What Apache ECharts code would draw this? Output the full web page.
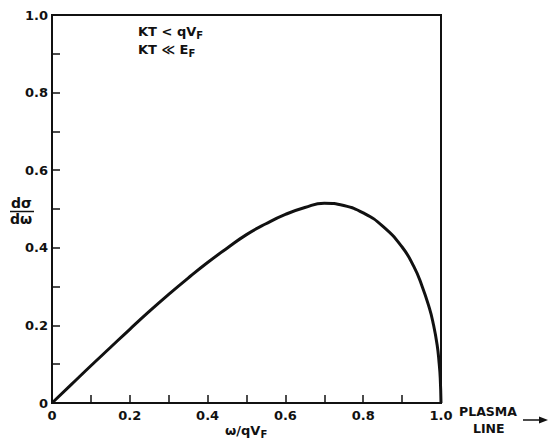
<!DOCTYPE html>
<html>
<head>
<meta charset="utf-8">
<script src="https://cdn.jsdelivr.net/npm/echarts@6/dist/echarts.min.js"></script>
<style>
html,body{margin:0;padding:0;background:#fff;}
#chart{width:550px;height:439px;}
</style>
</head>
<body>
<div id="chart"></div>
<script>
var xValues = [0, 0.05, 0.1, 0.15, 0.2, 0.25, 0.3, 0.35, 0.4, 0.45, 0.5, 0.55, 0.6, 0.65, 0.7, 0.75, 0.8, 0.85, 0.9, 0.93, 0.95, 0.97, 0.98, 0.99, 0.995, 0.998, 1.0];
var yValues = [0, 0.048, 0.096, 0.143, 0.190, 0.236, 0.280, 0.322, 0.362, 0.399, 0.434, 0.462, 0.486, 0.504, 0.515, 0.509, 0.490, 0.456, 0.402, 0.352, 0.305, 0.245, 0.205, 0.150, 0.105, 0.065, 0];
var xTickLabels = ['0', '0.2', '0.4', '0.6', '0.8', '1.0'];
var yTickLabels = ['0', '0.2', '0.4', '0.6', '0.8', '1.0'];

var FONT = 'DejaVu Sans';
var chart = echarts.init(document.getElementById('chart'), null, {renderer: 'svg'});

function labelFor(list) {
  return function (v) {
    var k = Math.round(v * 10);
    if (k % 2 !== 0) return '';
    return list[k / 2];
  };
}

var points = xValues.map(function (x, i) { return [x, yValues[i]]; });

function subText(main, sub, size) {
  return {
    text: '{n|' + main + '}{s|' + sub + '}', fill: '#111',
    rich: {
      n: {fontFamily: FONT, fontWeight: 'bold', fontSize: size, fill: '#111'},
      s: {fontFamily: FONT, fontWeight: 'bold', fontSize: size - 3, fill: '#111', padding: [7, 0, 0, 0]}
    }
  };
}

chart.setOption({
  animation: false,
  backgroundColor: '#fff',
  grid: {
    left: 52, right: 109, top: 15, bottom: 36,
    show: true, borderColor: '#111', borderWidth: 2, backgroundColor: 'transparent'
  },
  xAxis: {
    type: 'value', min: 0, max: 1, interval: 0.1,
    axisLine: {show: true, lineStyle: {color: '#111', width: 2}},
    axisTick: {show: true, inside: true, length: 8, lineStyle: {color: '#111', width: 1.5}},
    splitLine: {show: false},
    axisLabel: {
      formatter: labelFor(xTickLabels), color: '#111', fontFamily: FONT,
      fontWeight: 'bold', fontSize: 13, margin: 6, showMaxLabel: true, showMinLabel: true
    }
  },
  yAxis: {
    type: 'value', min: 0, max: 1, interval: 0.1,
    axisLine: {show: true, lineStyle: {color: '#111', width: 2}},
    axisTick: {show: true, inside: true, length: 8, lineStyle: {color: '#111', width: 1.5}},
    splitLine: {show: false},
    axisLabel: {
      formatter: labelFor(yTickLabels), color: '#111', fontFamily: FONT,
      fontWeight: 'bold', fontSize: 13, margin: 4
    }
  },
  series: [{
    type: 'line', data: points, smooth: 0.5, symbol: 'none',
    lineStyle: {color: '#111', width: 3}
  }],
  graphic: [
    {type: 'text', left: 138, top: 25, style: subText('KT < qV', 'F', 13)},
    {type: 'text', left: 138, top: 43, style: subText('KT ≪ E', 'F', 13)},
    {type: 'text', left: 11, top: 196, style: {text: 'dσ', fill: '#111', font: 'bold 14px "DejaVu Sans"'}},
    {type: 'line', shape: {x1: 10, y1: 211.5, x2: 34, y2: 211.5}, style: {stroke: '#111', lineWidth: 1.5}},
    {type: 'text', left: 10, top: 212, style: {text: 'dω', fill: '#111', font: 'bold 14px "DejaVu Sans"'}},
    {type: 'text', left: 225, top: 424, style: subText('ω/qV', 'F', 13)},
    {type: 'text', left: 459, top: 405, style: {text: 'PLASMA', fill: '#111', font: 'bold 12.5px "DejaVu Sans"'}},
    {type: 'text', left: 473, top: 422, style: {text: 'LINE', fill: '#111', font: 'bold 12.5px "DejaVu Sans"'}},
    {type: 'line', shape: {x1: 523, y1: 420, x2: 542, y2: 420}, style: {stroke: '#111', lineWidth: 1.5}},
    {type: 'polygon', shape: {points: [[548, 420], [539, 416.5], [539, 423.5]]}, style: {fill: '#111'}}
  ]
});
</script>
</body>
</html>
